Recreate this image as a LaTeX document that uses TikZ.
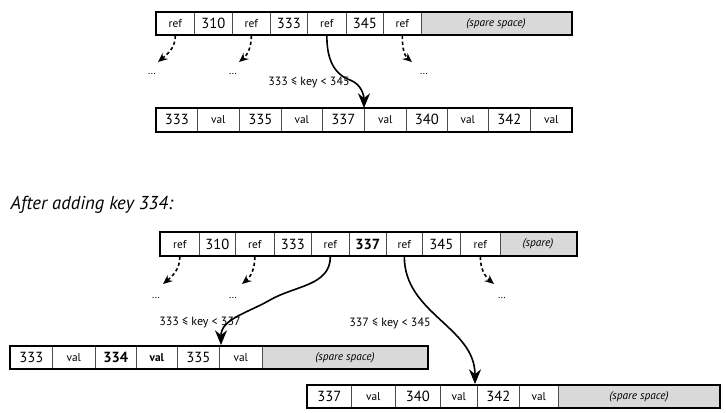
\documentclass[tikz,border=0pt]{standalone}
\usepackage{fontspec}
\setmainfont{PT Sans}
\usetikzlibrary{arrows.meta}
\begin{document}
\begin{tikzpicture}[x=0.75pt,y=-0.75pt,
  cellb/.style={draw=black!70,line width=0.5pt},
  outer/.style={draw=black,line width=1.3pt},
  spare/.style={fill=black!15},
  lbl/.style={font=\fontsize{9}{10}\selectfont},
  num/.style={font=\fontsize{11}{12}\selectfont},
  small/.style={font=\fontsize{8.5}{10}\selectfont},
  dots/.style={font=\fontsize{8}{9}\selectfont},
  dptr/.style={line width=1.2pt,dash pattern=on 2.5pt off 2pt,-{Stealth[length=7pt,width=6pt]}},
  sptr/.style={line width=1.2pt,-{Stealth[length=11pt,width=9pt]}}]
\useasboundingbox (0,0) rectangle (726,412);
% generic row macro
\newcommand{\myrow}[5]{% #1 y0, #2 y1, #3 list of x, #4 labels, #5 spare end
}
% ---- top parent
\fill[spare] (421,12) rectangle (572,35);
\foreach \a/\b/\t/\s [count=\i] in {156/194/ref/small,194/232/310/num,232/270/ref/small,270/307/333/num,307/346/ref/small,346/383/345/num,383/421/ref/small}
  \node[\s,cellb,minimum width={(\b-\a)*0.75pt},minimum height=17.25pt,inner sep=0pt,anchor=north west] (p\i) at (\a,12) {\t};
\node[small,anchor=center] (psp) at (496,23.5) {\itshape (spare space)};
\draw[outer] (156,12) rectangle (572,35);
% top leaf
\foreach \a/\b/\t/\s [count=\i] in {156/197/333/num,197/239/val/small,239/281/335/num,281/322/val/small,322/364/337/num,364/406/val/small,406/447/340/num,447/488/val/small,488/530/342/num,530/572/val/small}
  \node[\s,cellb,minimum width={(\b-\a)*0.75pt},minimum height=17.25pt,inner sep=0pt,anchor=north west] (l\i) at (\a,108) {\t};
\draw[outer] (156,108) rectangle (572,132);
\node[dots] (e1) at (152,74) {\dots};
\node[dots] (e2) at (233,74) {\dots};
\node[dots] (e3) at (424,74) {\dots};
\coordinate (t1) at (158,62); \coordinate (t2) at (239,62); \coordinate (t3) at (412,62);
\draw[dptr] (p1.south) to[out=-90,in=40] (t1);
\draw[dptr] (p3.south) to[out=-90,in=40] (t2);
\draw[dptr] (p7.south) to[out=-90,in=140] (t3);
\draw[sptr] (p5.south) to[out=-90,in=160] (350,80) to[out=-20,in=90] (l6.north west);
\node[lbl] (k1) at (309,82) {333 ≤ key < 345};
% heading
\node[anchor=west,font=\fontsize{14}{16}\selectfont\itshape] (h) at (6,205) {After adding key 334:};
% bottom parent
\fill[spare] (500,232) rectangle (577,256);
\foreach \a/\b/\t/\s [count=\i] in {160/199/ref/small,199/235/310/num,235/274/ref/small,274/311/333/num,311/349/ref/small,349/386/\textbf{337}/num,386/422/ref/small,422/460/345/num,460/500/ref/small}
  \node[\s,cellb,minimum width={(\b-\a)*0.75pt},minimum height=18pt,inner sep=0pt,anchor=north west] (q\i) at (\a,232) {\t};
\node[small] (qsp) at (538,244) {\itshape (spare)};
\draw[outer] (160,232) rectangle (577,256);
% left leaf
\fill[spare] (262,346) rectangle (428,369);
\foreach \a/\b/\t/\s [count=\i] in {10/52/333/num,52/95/val/small,95/136/\textbf{334}/num,136/177/\textbf{val}/small,177/219/335/num,219/262/val/small}
  \node[\s,cellb,minimum width={(\b-\a)*0.75pt},minimum height=17.25pt,inner sep=0pt,anchor=north west] (a\i) at (\a,346) {\t};
\node[small] (asp) at (345,357.5) {\itshape (spare space)};
\draw[outer] (10,346) rectangle (428,369);
% right leaf
\fill[spare] (558,385) rectangle (720,408);
\foreach \a/\b/\t/\s [count=\i] in {307/351/337/num,351/395/val/small,395/440/340/num,440/477/val/small,477/519/342/num,519/558/val/small}
  \node[\s,cellb,minimum width={(\b-\a)*0.75pt},minimum height=17.25pt,inner sep=0pt,anchor=north west] (b\i) at (\a,385) {\t};
\node[small] (bsp) at (639,396.5) {\itshape (spare space)};
\draw[outer] (307,385) rectangle (720,408);
% bottom arrows
\node[dots] (f1) at (156,298) {\dots};
\node[dots] (f2) at (233,298) {\dots};
\node[dots] (f3) at (502,298) {\dots};
\coordinate (u1) at (163,284); \coordinate (u2) at (242,284); \coordinate (u3) at (494,284);
\draw[dptr] (q1.south) to[out=-90,in=40] (u1);
\draw[dptr] (q3.south) to[out=-90,in=40] (u2);
\draw[dptr] (q9.south) to[out=-90,in=140] (u3);
\coordinate (v1) at (221,345); \coordinate (v2) at (475,384);
\draw[sptr] (q5.south) to[out=-90,in=30] (270,300) to[out=-150,in=90] (v1);
\draw[sptr] (q7.south) to[out=-90,in=90] (v2);
\node[lbl] (k2) at (200,323) {333 ≤ key < 337};
\node[lbl] (k3) at (390,323) {337 ≤ key < 345};
\end{tikzpicture}
\end{document}
